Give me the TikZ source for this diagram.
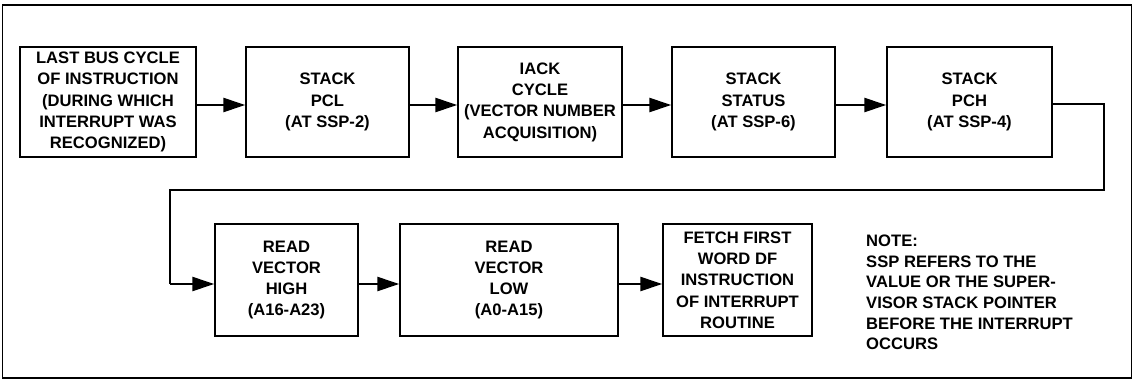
\documentclass[tikz,border=0pt]{standalone}
\usepackage{fontspec}
\setmainfont{Liberation Sans}
\usetikzlibrary{arrows.meta}
\tikzset{
  stepbox/.style={draw=black, line width=1.4pt, align=center, inner sep=0pt,
    font=\bfseries\fontsize{16.6}{21.3}\selectfont},
  flow/.style={line width=2.4pt, -{Triangle[length=22pt,width=14pt]}},
  link/.style={line width=2.4pt},
  notetext/.style={align=left, inner sep=0pt, anchor=north west,
    font=\bfseries\fontsize{16.6}{20.6}\selectfont},
}
\begin{document}
\begin{tikzpicture}[x=1pt,y=-1pt]
\useasboundingbox (0,0) rectangle (1134,380);
\draw[line width=1.2pt] (2.5,5) rectangle (1131.5,378);
% row 1
\node[stepbox, minimum width=176pt, minimum height=110pt] (b1) at (108,102)
  {LAST BUS CYCLE\\OF INSTRUCTION\\(DURING WHICH\\INTERRUPT WAS\\RECOGNIZED)};
\node[stepbox, minimum width=163pt, minimum height=110pt] (b2) at (327.5,102)
  {STACK\\PCL\\(AT SSP-2)};
\node[stepbox, minimum width=164pt, minimum height=110pt] (b3) at (540,102)
  {IACK\\CYCLE\\(VECTOR NUMBER\\ACQUISITION)};
\node[stepbox, minimum width=163pt, minimum height=110pt] (b4) at (753.5,102)
  {STACK\\STATUS\\(AT SSP-6)};
\node[stepbox, minimum width=165pt, minimum height=110pt] (b5) at (969.5,102)
  {STACK\\PCH\\(AT SSP-4)};
% row 2
\node[stepbox, minimum width=143pt, minimum height=112pt] (b6) at (286.5,280)
  {READ\\VECTOR\\HIGH\\(A16-A23)};
\node[stepbox, minimum width=218pt, minimum height=112pt] (b7) at (509,280)
  {READ\\VECTOR\\LOW\\(A0-A15)};
\node[stepbox, minimum width=149pt, minimum height=112pt] (b8) at (737.5,280)
  {FETCH FIRST\\WORD DF\\INSTRUCTION\\OF INTERRUPT\\ROUTINE};
\node[notetext] (note) at (866,235)
  {NOTE:\\SSP REFERS TO THE\\VALUE OR THE SUPER-\\VISOR STACK POINTER\\BEFORE THE INTERRUPT\\OCCURS};
% connectors
\draw[flow] ([yshift=-3pt]b1.east) -- ([yshift=-3pt]b2.west);
\draw[flow] ([yshift=-3pt]b2.east) -- ([yshift=-3pt]b3.west);
\draw[flow] ([yshift=-3pt]b3.east) -- ([yshift=-3pt]b4.west);
\draw[flow] ([yshift=-3pt]b4.east) -- ([yshift=-3pt]b5.west);
\coordinate (t1) at (1104,104);
\coordinate (t2) at (1104,190);
\coordinate (t3) at (170,190);
\coordinate (t4) at (170,284);
\draw[link, line join=miter] (b5.east |- t1) -- (t1) -- (t2) -- (t3) -- (t4);
\draw[flow] (t4) -- (b6.west |- t4);
\draw[flow] ([yshift=-4pt]b6.east) -- ([yshift=-4pt]b7.west);
\draw[flow] ([yshift=-4pt]b7.east) -- ([yshift=-4pt]b8.west);
\end{tikzpicture}
\end{document}
